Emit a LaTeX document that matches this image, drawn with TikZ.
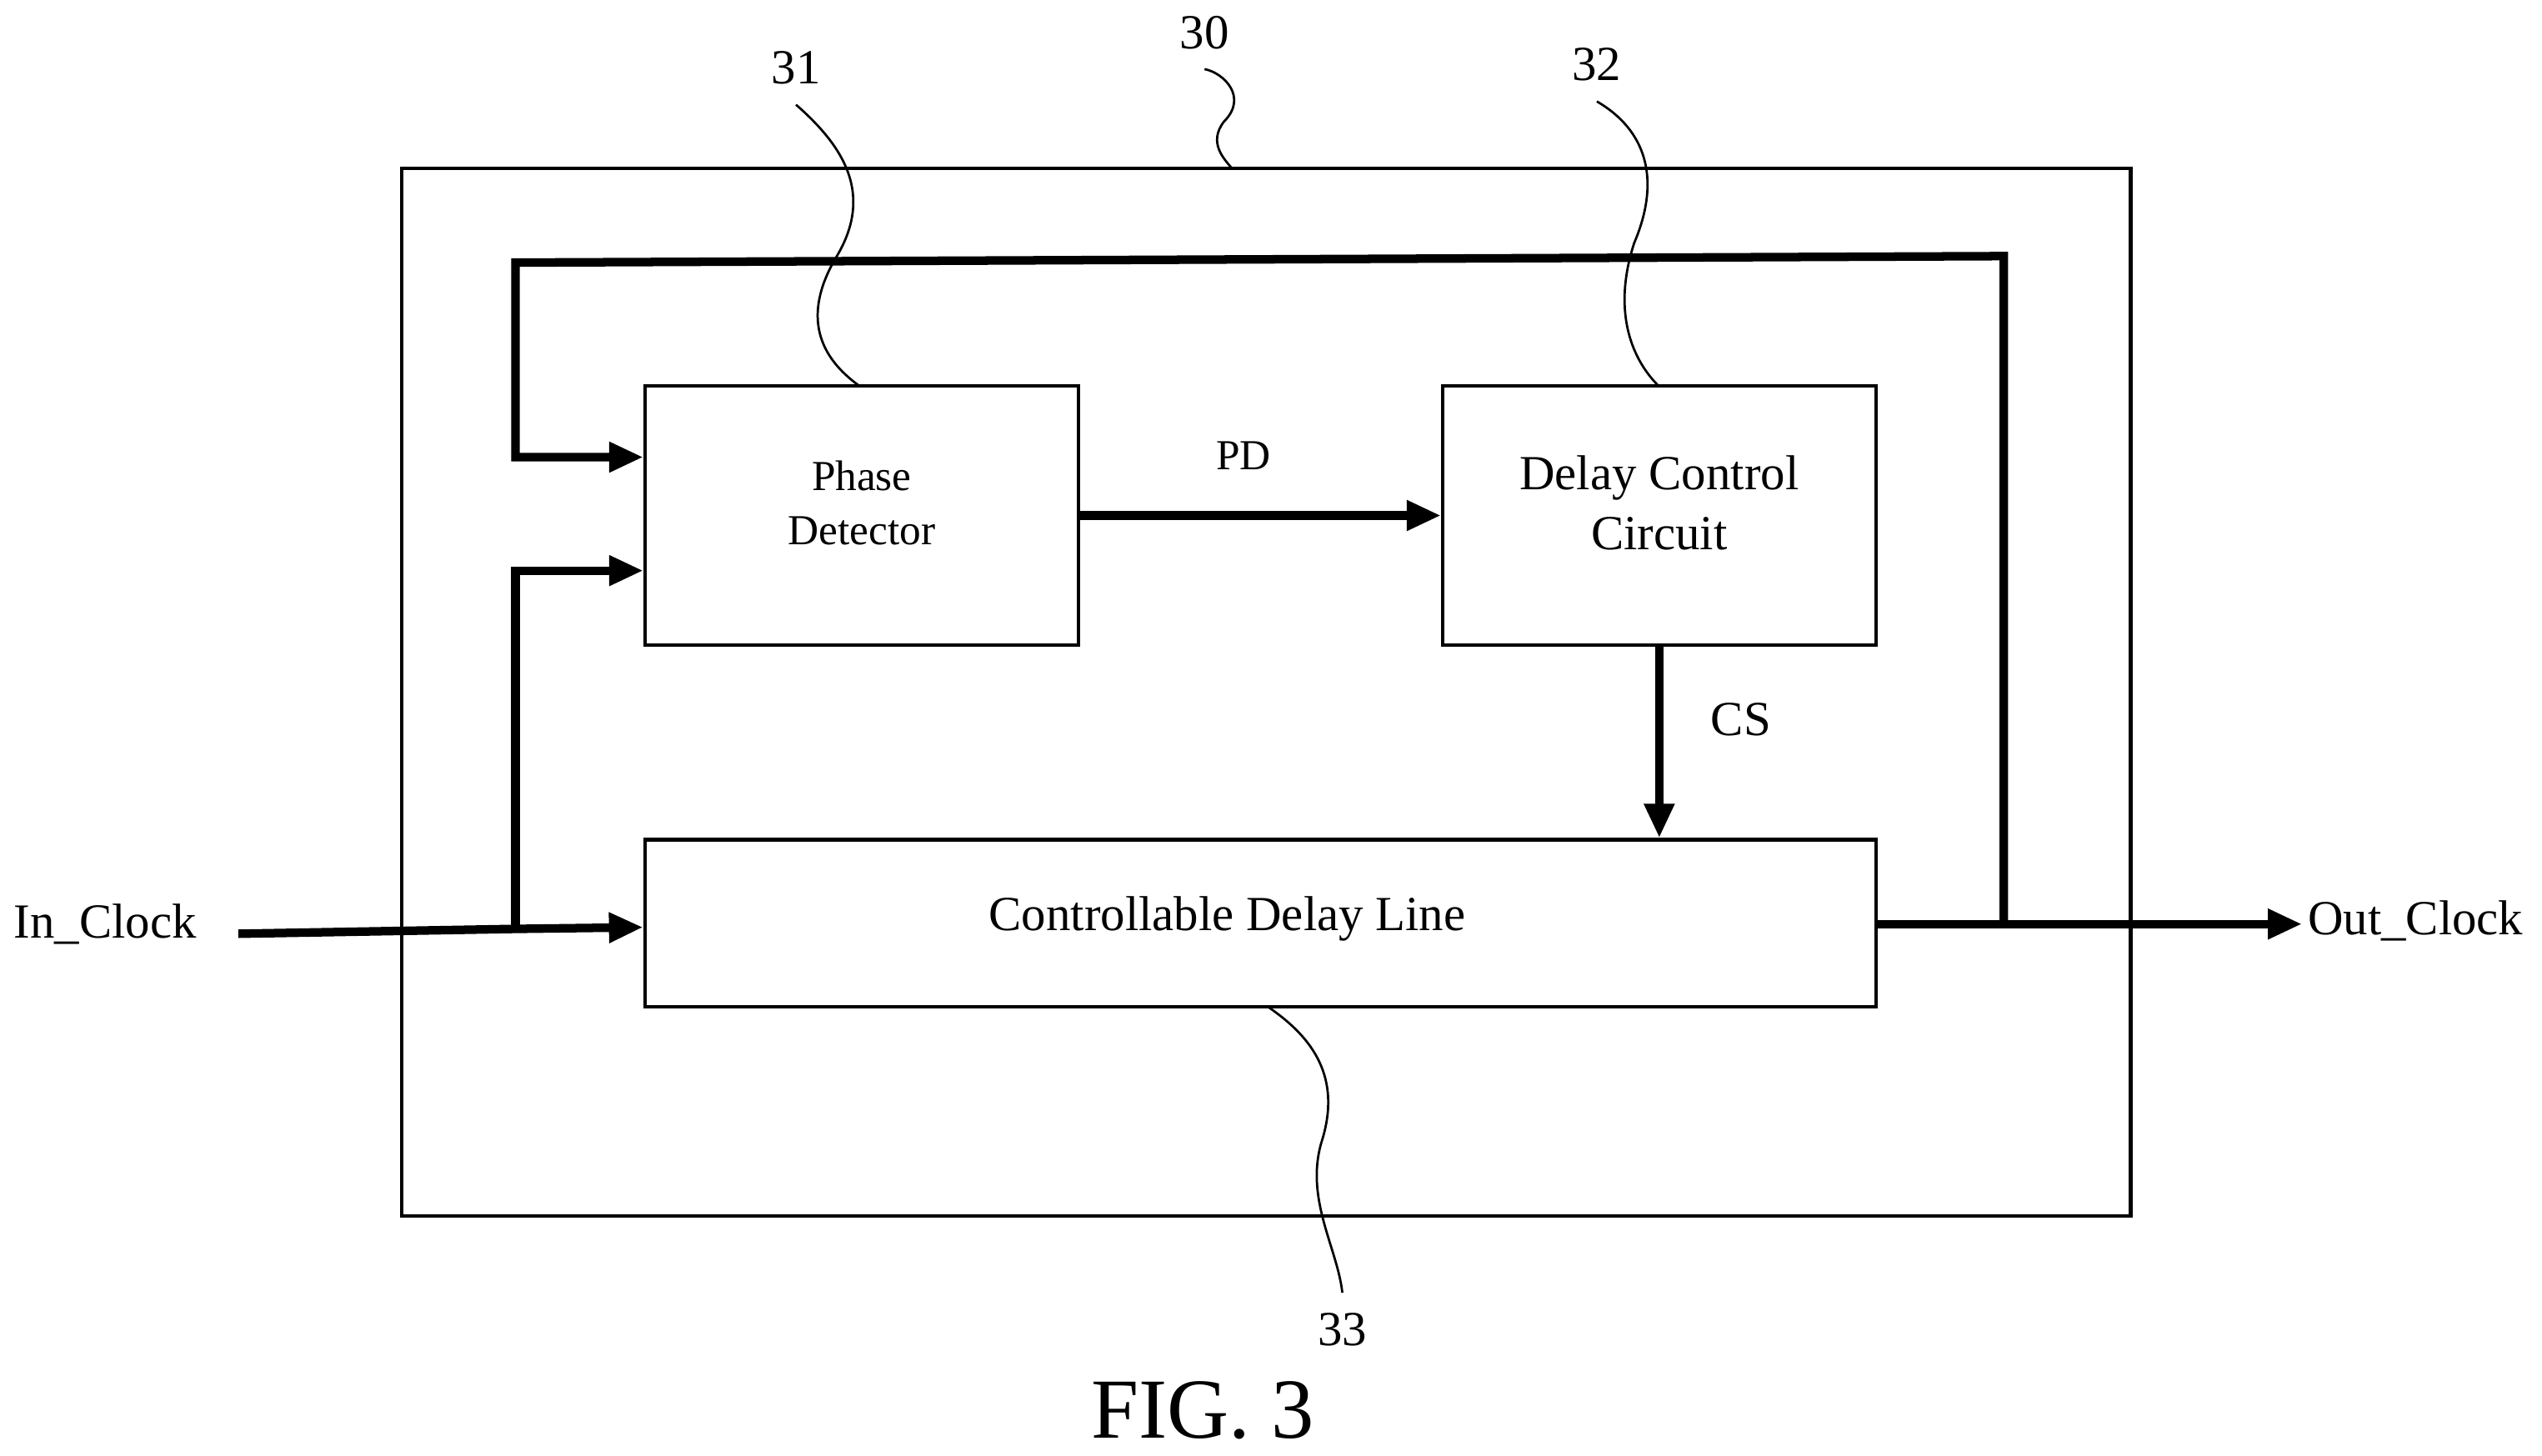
\documentclass[tikz,border=0pt]{standalone}
\usepackage{fontspec}
\setmainfont{Liberation Serif}
\usetikzlibrary{arrows.meta,positioning}
\tikzset{
  blk/.style={draw,line width=0.6pt,inner sep=0pt},
  sig/.style={line width=1.5pt},
  sigarr/.style={sig,-{Triangle[length=6pt,width=5pt]}},
  lead/.style={line width=0.4pt},
  lbl/.style={font=\fontsize{8.6}{10}\selectfont}
}
\begin{document}
\begin{tikzpicture}[x=0.01cm,y=-0.01cm]
\useasboundingbox (0,0) rectangle (1568,898);
% outer frame
\node[blk,minimum width=10.66cm,minimum height=6.46cm] (frame) at (781,427) {};
% blocks
\node[blk,minimum width=2.67cm,minimum height=1.6cm] (pd) at (531.5,318) {};
\node[align=center,font=\fontsize{7.5}{9.5}\selectfont] (pdtxt) at (531.5,310) {Phase\\Detector};
\node[blk,minimum width=2.67cm,minimum height=1.6cm] (dcc) at (1023.5,318) {};
\node[align=center,font=\fontsize{8.6}{10.5}\selectfont] (dcctxt) at (1023.5,310) {Delay Control\\Circuit};
\node[blk,minimum width=7.59cm,minimum height=1.03cm] (cdl) at (777.5,569.5) {};
\node[lbl] (cdltxt) at (757,567) {Controllable Delay Line};
% terminals
\node[lbl] (in) at (65,570) {In\_Clock};
\node[lbl] (out) at (1490,568) {Out\_Clock};
\coordinate (inend) at (147,576);
\coordinate (split) at (318,573);
\coordinate (tap) at (1236,570);
\coordinate (outend) at (1420,570);
% signals
\draw[sigarr] (inend) -- (split) -- (cdl.west |- 0,572);
\draw[sigarr] (split) -- (318,352) -- (pd.west |- 0,352);
\draw[sig] (cdl.east |- tap) -- (tap);
\draw[sigarr] (tap) -- (outend);
\draw[sigarr] (tap) -- (1236,158) -- (318,162) -- (318,282) -- (pd.west |- 0,282);
\draw[sigarr] (pd.east) -- node[above=4pt,xshift=-3pt,font=\fontsize{7.5}{9}\selectfont] {PD} (dcc.west);
\draw[sigarr] (dcc.south) -- node[right=5pt,yshift=4pt,lbl] {CS} (dcc.south |- cdl.north);
% reference numerals
\node[lbl] (n31) at (491,42) {31};
\node[lbl] (n30) at (743,20) {30};
\node[lbl] (n32) at (985,40) {32};
\node[lbl] (n33) at (828,820) {33};
\draw[lead] (n31.south) .. controls (520,90) and (540,120) .. (515,160) .. controls (495,195) and (505,220) .. (530,238);
\draw[lead] (n30.south) .. controls (755,45) and (770,60) .. (755,75) .. controls (745,88) and (755,98) .. (760,104);
\draw[lead] (n32.south) .. controls (1015,80) and (1025,110) .. (1008,150) .. controls (995,190) and (1005,220) .. (1023,238);
\draw[lead] (n33.north) .. controls (825,770) and (805,740) .. (815,705) .. controls (828,665) and (810,640) .. (782,621);
\node[font=\fontsize{15}{18}\selectfont] (fig) at (742,870) {FIG. 3};
\end{tikzpicture}
\end{document}
